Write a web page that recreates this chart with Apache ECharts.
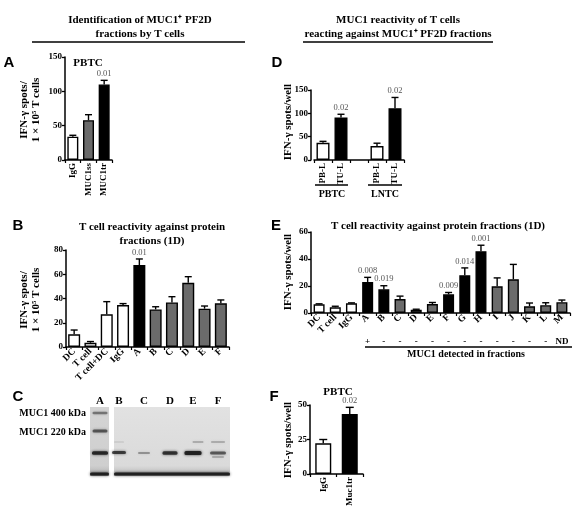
<!DOCTYPE html>
<html><head><meta charset="utf-8">
<script src="https://cdn.jsdelivr.net/npm/echarts@6/dist/echarts.min.js"></script>
<style>html,body{margin:0;padding:0;background:#fff}#c{width:581px;height:509px}</style>
</head><body><div id="c"></div>
<script>
// ---- Panel A ----
const catsA = ['IgG','MUC1ss','MUC1tr'];
const valsA = [34, 58, 110];
const errA  = [2, 8, 6];
const pA    = ['', '', '0.01'];
const kindA = ['ctrl','mid','pos'];
// ---- Panel D ----
const catsD = ['PB-L','TU-L','','PB-L','TU-L'];
const valsD = [37, 91, null, 30, 111];
const errD  = [3, 7, null, 6, 23];
const pD    = ['', '0.02', '', '', '0.02'];
const kindD = ['ctrl','pos','','ctrl','pos'];
const groupsD = ['PBTC','LNTC'];
// ---- Panel B ----
const catsB = ['DC','T cell','T cell+DC','IgG','A','B','C','D','E','F'];
const valsB = [10.5, 3.5, 27, 34.6, 67.6, 31, 36.8, 53, 31.6, 36];
const errB  = [3.5, 1, 10.4, 1.2, 5, 2.2, 4.7, 5, 2.2, 2.8];
const pB    = ['','','','','0.01','','','','',''];
const kindB = ['ctrl','ctrl','ctrl','ctrl','pos','mid','mid','mid','mid','mid'];
// ---- Panel E ----
const catsE = ['DC','T cell','IgG','A','B','C','D','E','F','G','H','I','J','K','L','M'];
const valsE = [6.4, 4.2, 7.2, 23, 17.5, 10.3, 2.4, 6.6, 13.8, 28, 45.8, 19.8, 25, 5, 5.8, 8];
const errE  = [0.4, 0.8, 0.3, 3.4, 2.7, 2.2, 0.4, 1.2, 1.4, 5.4, 4.4, 6.2, 11, 2.4, 1.8, 1.6];
const pE    = ['','','','0.008','0.019','','','','0.009','0.014','0.001','','','','',''];
const kindE = ['ctrl','ctrl','ctrl','pos','pos','mid','mid','mid','pos','pos','pos','mid','mid','mid','mid','mid'];
const detectedE = ['','','','+','-','-','-','-','-','-','-','-','-','-','-','ND'];
// ---- Panel F ----
const catsF = ['IgG','Muc1tr'];
const valsF = [22.2, 43.5];
const errF  = [2.8, 4.8];
const pF    = ['', '0.02'];
const kindF = ['ctrl','pos'];
// ---- Panel C (blot lanes) ----
const lanesC = ['A','B','C','D','E','F'];

const SERIF = '"Liberation Serif","Times New Roman",serif';
const SANS = '"Liberation Sans",Arial,sans-serif';
const COLORS = {ctrl:'#ffffff', mid:'#6b6b6b', pos:'#000000', '':'#fff'};

const chart = echarts.init(document.getElementById('c'), null, {renderer:'canvas'});

function yAx(gi, max, interval, offset){
  return {type:'value', gridIndex:gi, min:0, max:max, interval:interval, offset:offset||0,
    splitLine:{show:false},
    axisLine:{show:true, lineStyle:{color:'#000', width:1.5}},
    axisTick:{show:true, length:3, lineStyle:{color:'#000', width:1.3}},
    axisLabel:{color:'#000', fontFamily:SERIF, fontWeight:'bold', fontSize:9, margin:3}};
}
function xAx(gi, cats, rotate, fs){
  return {type:'category', gridIndex:gi, data:cats,
    axisLine:{show:true, lineStyle:{color:'#000', width:1.5}},
    axisTick:{show:true, length:3, lineStyle:{color:'#000', width:1.2}},
    axisLabel:{interval:0, rotate:rotate, color:'#000', fontFamily:SERIF, fontWeight:'bold', fontSize:fs||9, margin:3}};
}
function barSeries(idx, vals, kinds, bw){
  return {type:'bar', xAxisIndex:idx, yAxisIndex:idx, barWidth:bw, z:2,
    data: vals.map((v,i)=>({value:v, itemStyle:{color:COLORS[kinds[i]], borderColor:'#000', borderWidth:1.4}})),
    animation:false};
}
function errSeries(idx, vals, errs, pvals, cap){
  const data = [];
  vals.forEach((v,i)=>{ if(v!=null) data.push([i, v, errs[i]]); });
  return {type:'custom', xAxisIndex:idx, yAxisIndex:idx, z:5, animation:false,
    encode:{x:0, y:1},
    data:data,
    renderItem:function(params, api){
      const i = api.value(0), v = api.value(1), e = api.value(2);
      const p0 = api.coord([i, v]);
      const p1 = api.coord([i, v+e]);
      const ch = [
        {type:'line', shape:{x1:p0[0], y1:p0[1], x2:p1[0], y2:p1[1]}, style:{stroke:'#000', lineWidth:1.4}},
        {type:'line', shape:{x1:p1[0]-cap, y1:p1[1], x2:p1[0]+cap, y2:p1[1]}, style:{stroke:'#000', lineWidth:1.4}}
      ];
      const p = pvals[i];
      if(p) ch.push({type:'text', x:p1[0], y:p1[1]-2, style:{text:p, textAlign:'center', textVerticalAlign:'bottom', fill:'#555', font:'8.5px '+SERIF}});
      return {type:'group', children:ch};
    }};
}

function T(x, y, text, font, opts){
  return {type:'text', x:x, y:y, silent:true, style:Object.assign({text:text, font:font, fill:'#000', textAlign:'center', textVerticalAlign:'middle'}, opts||{})};
}
function TR(x, y, text, font){
  return {type:'text', x:x, y:y, rotation:Math.PI/2, silent:true, style:{text:text, font:font, fill:'#000', textAlign:'center', textVerticalAlign:'middle', lineHeight:12}};
}
function L(x1,y1,x2,y2,w){
  return {type:'line', silent:true, shape:{x1:x1,y1:y1,x2:x2,y2:y2}, style:{stroke:'#000', lineWidth:w||1.5}};
}
function band(x, y, w, h, a){
  return {type:'rect', silent:true, shape:{x:x-w/2, y:y-h/2, width:w, height:h, r:1.5},
    style:{fill:'rgba(25,25,25,'+a+')', shadowBlur:3, shadowColor:'rgba(25,25,25,'+a+')'}};
}

const BT = 'bold 11px '+SERIF;
const BL = 'bold 15px '+SANS;
const YN = 'bold 11px '+SERIF;

// Blot lane x-centres
const laneX = [100, 119, 144, 170, 193, 218];

const graphics = [
  // headers
  T(140, 20, 'Identification of MUC1\u207A PF2D', BT),
  T(140, 34, 'fractions by T cells', BT),
  L(32, 42, 245, 42, 1.5),
  T(398, 20, 'MUC1 reactivity of T cells', BT),
  T(398, 34, 'reacting against MUC1\u207A PF2D fractions', BT),
  L(303, 42, 493, 42, 1.5),
  // panel letters
  T(9, 63, 'A', BL), T(277, 63, 'D', BL), T(18, 226, 'B', BL), T(276, 226, 'E', BL),
  T(18, 397, 'C', BL), T(274, 397, 'F', BL),
  // panel A title & y name
  T(88, 63, 'PBTC', BT),
  TR(30, 110, 'IFN-\u03B3 spots/\n1 \u00D7 10\u2075 T cells', YN),
  // panel D
  TR(288, 122, 'IFN-\u03B3 spots/well', YN),
  L(315, 185, 348, 185, 1.5), L(368, 185, 402, 185, 1.5),
  T(332, 194, groupsD[0], 'bold 10px '+SERIF), T(385, 194, groupsD[1], 'bold 10px '+SERIF),
  // panel B
  T(152, 227, 'T cell reactivity against protein', BT),
  T(152, 241, 'fractions (1D)', BT),
  TR(30, 300, 'IFN-\u03B3 spots/\n1 \u00D7 10\u2075 T cells', YN),
  // panel E
  T(438, 226, 'T cell reactivity against protein fractions (1D)', BT),
  TR(288, 272, 'IFN-\u03B3 spots/well', YN),
  L(365, 347, 572, 347, 1.5),
  T(466, 354, 'MUC1 detected in fractions', 'bold 10px '+SERIF),
  // panel F
  T(338, 392, 'PBTC', BT),
  TR(288, 440, 'IFN-\u03B3 spots/well', YN),
  // panel C blot
  {type:'rect', silent:true, shape:{x:90, y:407, width:19, height:69},
    style:{fill:{type:'linear', x:0,y:0,x2:0,y2:1, colorStops:[{offset:0,color:'#d4d4d4'},{offset:0.85,color:'#cfcfcf'},{offset:1,color:'#b0b0b0'}]}}},
  {type:'rect', silent:true, shape:{x:114, y:407, width:116, height:69},
    style:{fill:{type:'linear', x:0,y:0,x2:0,y2:1, colorStops:[{offset:0,color:'#e2e2e2'},{offset:0.85,color:'#dadada'},{offset:1,color:'#b8b8b8'}]}}},
  band(100, 413, 15, 2.5, 0.45),
  band(100, 431, 15, 3, 0.6),
  band(100, 453, 16, 3.5, 0.85),
  band(99.5, 474, 19, 3, 0.9),
  band(172, 474, 116, 3, 0.9),
  band(119, 452.5, 14, 3, 0.75),
  band(144, 453, 12, 2, 0.35),
  band(170, 453, 15, 3.5, 0.8),
  band(193, 453, 17, 4, 0.9),
  band(218, 453, 16, 3, 0.6),
  band(218, 457, 12, 1.5, 0.3),
  band(119, 442, 10, 1.2, 0.15),
  band(198, 442, 11, 1.5, 0.3),
  band(218, 442, 14, 1.5, 0.3),
  T(86, 413, 'MUC1 400 kDa', 'bold 10px '+SERIF, {textAlign:'right'}),
  T(86, 432, 'MUC1 220 kDa', 'bold 10px '+SERIF, {textAlign:'right'})
];
lanesC.forEach((l,i)=>graphics.push(T(laneX[i], 401, l, 'bold 11px '+SERIF)));

const detectAxis = {type:'category', gridIndex:3, data:detectedE, position:'bottom',
  axisLine:{show:false}, axisTick:{show:false},
  axisLabel:{interval:0, color:'#000', fontFamily:SERIF, fontWeight:'bold', fontSize:9, margin:24}};

const option = {
  backgroundColor:'#fff',
  animation:false,
  grid:[
    {left:65, top:57, width:47, height:103},   // A
    {left:314, top:90, width:90, height:70},   // D
    {left:66, top:250, width:163, height:97},  // B
    {left:311, top:232, width:259, height:81}, // E
    {left:310, top:405, width:53, height:69}   // F
  ],
  xAxis:[
    xAx(0, catsA, 90, 9),
    xAx(1, catsD, 90, 9),
    xAx(2, catsB, 45, 9.5),
    xAx(3, catsE, 45, 9.5),
    xAx(4, catsF, 90, 9),
    detectAxis
  ],
  yAxis:[
    yAx(0, 150, 50),
    yAx(1, 150, 50, 3),
    yAx(2, 80, 20),
    yAx(3, 60, 20),
    yAx(4, 50, 25)
  ],
  series:[
    barSeries(0, valsA, kindA, 11), errSeries(0, valsA, errA, pA, 3.5),
    barSeries(1, valsD, kindD, 13), errSeries(1, valsD, errD, pD, 3.5),
    barSeries(2, valsB, kindB, 12), errSeries(2, valsB, errB, pB, 3.5),
    barSeries(3, valsE, kindE, 11), errSeries(3, valsE, errE, pE, 3.5),
    barSeries(4, valsF, kindF, 16), errSeries(4, valsF, errF, pF, 4)
  ],
  graphic:graphics
};
chart.setOption(option);
</script></body></html>
